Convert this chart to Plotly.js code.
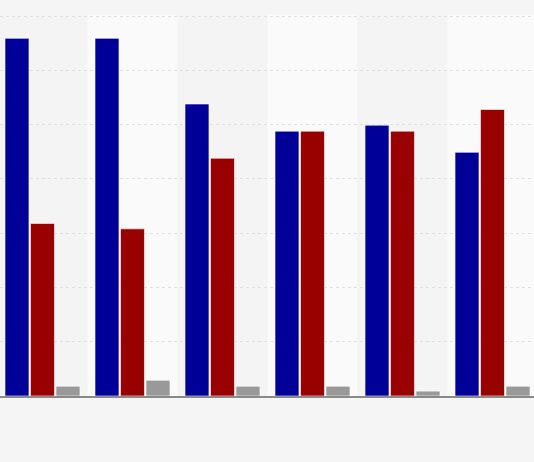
<!DOCTYPE html>
<html>
<head>
<meta charset="utf-8">
<script src="https://cdn.plot.ly/plotly-3.0.1.min.js"></script>
<style>
  html, body { margin: 0; padding: 0; background: #f5f5f5; }
  #chart { width: 534px; height: 462px; }
</style>
</head>
<body>
<div id="chart"></div>
<script>
// categories and the three series (no labels shown)
var categories = ['G1', 'G2', 'G3', 'G4', 'G5', 'G6'];
var blueValues = [65.9, 65.9, 53.8, 48.8, 49.9, 44.9];
var redValues = [31.8, 30.8, 43.8, 48.8, 48.8, 52.8];
var grayValues = [1.8, 2.9, 1.8, 1.8, 0.9, 1.8];

var barLine = { color: 'rgba(255,255,255,0.6)', width: 1 };

var blue = {
    x: categories,
    y: blueValues,
    type: 'bar',
    marker: { color: '#000099', line: barLine },
    hoverinfo: 'none'
};

var red = {
    x: categories,
    y: redValues,
    type: 'bar',
    marker: { color: '#990000', line: barLine },
    hoverinfo: 'none'
};

var gray = {
    x: categories,
    y: grayValues,
    type: 'bar',
    marker: { color: '#999999', line: barLine },
    hoverinfo: 'none'
};

// alternating column bands behind the bars
var bands = categories.map(function (c, i) {
    return {
        type: 'rect',
        xref: 'x',
        yref: 'paper',
        x0: i - 0.5,
        x1: i + 0.5,
        y0: 0,
        y1: 1,
        fillcolor: i % 2 === 0 ? '#f4f4f4' : '#fafafa',
        line: { width: 0 },
        layer: 'below'
    };
});

var layout = {
    width: 534,
    height: 462,
    showlegend: false,
    barmode: 'group',
    bargap: 0.15,
    bargroupgap: 0.06,
    paper_bgcolor: '#f5f5f5',
    plot_bgcolor: '#f5f5f5',
    margin: { l: 0, r: 0, t: 15, b: 66, pad: 0 },
    xaxis: {
        type: 'category',
        range: [-0.472, 5.461],
        showticklabels: false,
        showgrid: false,
        zeroline: false,
        showline: true,
        linecolor: '#8a8a8a',
        linewidth: 1.5,
        ticks: ''
    },
    yaxis: {
        range: [0, 70.2],
        dtick: 10,
        showticklabels: false,
        showgrid: true,
        gridcolor: '#e0e0e0',
        griddash: 'dot',
        gridwidth: 1,
        zeroline: false,
        ticks: ''
    },
    shapes: bands
};

Plotly.newPlot('chart', [blue, red, gray], layout, { displayModeBar: false, staticPlot: true });
</script>
</body>
</html>
